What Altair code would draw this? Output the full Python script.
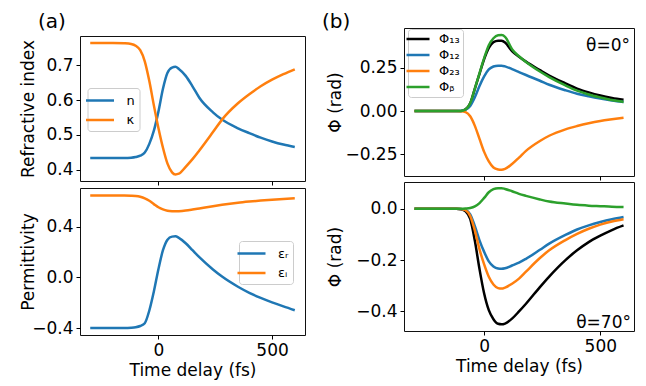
import altair as alt
import pandas as pd

# ---------------- data ----------------
t = [-300, -200, -150, -120, -100, -80, -60, -40, -20, 0, 20, 40, 60, 75, 90,
     120, 150, 180, 240, 280, 350, 400, 450, 500, 550, 600]

n_vals = [0.433, 0.433, 0.433, 0.434, 0.436, 0.440, 0.449, 0.474, 0.512, 0.567,
          0.633, 0.679, 0.694, 0.696, 0.690, 0.670, 0.640, 0.607, 0.565, 0.544,
          0.519, 0.505, 0.492, 0.481, 0.472, 0.465]
kappa_vals = [0.765, 0.765, 0.764, 0.762, 0.757, 0.744, 0.712, 0.655, 0.585, 0.520,
              0.463, 0.417, 0.392, 0.386, 0.388, 0.408, 0.430, 0.455, 0.508, 0.544,
              0.591, 0.617, 0.640, 0.659, 0.675, 0.689]

eps_r = [-0.398, -0.398, -0.398, -0.396, -0.392, -0.382, -0.360, -0.260, -0.110, 0.065,
         0.215, 0.298, 0.322, 0.324, 0.312, 0.270, 0.215, 0.160, 0.063, 0.007,
         -0.073, -0.121, -0.161, -0.196, -0.228, -0.258]
eps_i = [0.645, 0.645, 0.645, 0.644, 0.642, 0.636, 0.624, 0.604, 0.578, 0.553,
         0.536, 0.526, 0.522, 0.521, 0.522, 0.527, 0.535, 0.544, 0.562, 0.573,
         0.589, 0.598, 0.606, 0.613, 0.619, 0.625]

phi13_0 = [0.0, 0.0, 0.0, 0.0, 0.001, 0.010, 0.045, 0.130, 0.215, 0.300,
           0.365, 0.398, 0.406, 0.405, 0.395, 0.345, 0.313, 0.285, 0.236, 0.205,
           0.160, 0.130, 0.108, 0.090, 0.076, 0.065]
phi12_0 = [0.0, 0.0, 0.0, 0.0, 0.001, 0.008, 0.030, 0.080, 0.145, 0.200,
           0.240, 0.257, 0.262, 0.262, 0.258, 0.242, 0.225, 0.208, 0.175, 0.152,
           0.120, 0.100, 0.085, 0.072, 0.061, 0.052]
phi23_0 = [0.0, 0.0, 0.0, 0.0, -0.001, -0.006, -0.030, -0.085, -0.160, -0.235,
           -0.290, -0.325, -0.336, -0.338, -0.333, -0.305, -0.268, -0.229, -0.172, -0.142,
           -0.105, -0.086, -0.070, -0.057, -0.047, -0.038]
phib_0 = [0.0, 0.0, 0.0, 0.0, 0.001, 0.010, 0.045, 0.130, 0.218, 0.305,
          0.380, 0.420, 0.437, 0.438, 0.428, 0.357, 0.316, 0.283, 0.228, 0.196,
          0.148, 0.118, 0.096, 0.079, 0.064, 0.053]

phi13_70 = [0.0, 0.0, 0.0, 0.0, -0.002, -0.010, -0.040, -0.125, -0.235, -0.330,
            -0.395, -0.430, -0.448, -0.450, -0.447, -0.428, -0.400, -0.370, -0.305, -0.264,
            -0.200, -0.162, -0.130, -0.105, -0.083, -0.065]
phi12_70 = [0.0, 0.0, 0.0, 0.0, -0.001, -0.005, -0.022, -0.068, -0.123, -0.168,
            -0.205, -0.225, -0.233, -0.234, -0.232, -0.221, -0.210, -0.195, -0.160, -0.136,
            -0.102, -0.081, -0.065, -0.052, -0.041, -0.032]
phi23_70 = [0.0, 0.0, 0.0, 0.0, -0.001, -0.006, -0.028, -0.085, -0.158, -0.217,
            -0.265, -0.295, -0.309, -0.311, -0.307, -0.292, -0.272, -0.245, -0.192, -0.162,
            -0.122, -0.098, -0.078, -0.062, -0.050, -0.041]
phib_70 = [0.0, 0.0, 0.0, 0.0, 0.0, 0.001, 0.003, 0.009, 0.022, 0.042,
           0.064, 0.076, 0.080, 0.080, 0.077, 0.068, 0.058, 0.050, 0.036, 0.028,
           0.020, 0.015, 0.012, 0.010, 0.008, 0.007]

nk_names = ["n", "κ"]
eps_names = ["εᵣ", "εᵢ"]
phi_names = ["Φ₁₃", "Φ₁₂", "Φ₂₃", "Φᵦ"]
panel_labels = ["(a)", "(b)"]
angle_labels = ["θ=0°", "θ=70°"]
x_ticks = [0, 500]

# ---------------- styling ----------------
FONT = "DejaVu Sans"
BLUE, ORANGE, GREEN, BLACK = "#1f77b4", "#ff7f0e", "#2ca02c", "#000000"
X_DOMAIN = [-345, 645]
WL, HLT, HLB = 225, 145, 147
WR, HRT, HRB = 230, 148, 149
LINE_SYMBOL = "M-2,0H2"


def long_df(names, series, field):
    rows = []
    for name, vals in zip(names, series):
        for tt, v in zip(t, vals):
            rows.append({"t": tt, "v": v, field: name})
    return pd.DataFrame(rows)


def x_enc(show):
    if show:
        ax = alt.Axis(values=x_ticks, format="d", title="Time delay (fs)")
    else:
        ax = alt.Axis(values=x_ticks, labels=False, title=None)
    return alt.X("t:Q", scale=alt.Scale(domain=X_DOMAIN, nice=False, zero=False), axis=ax)


def legend(x, y, half_len, row_pad, pad, lab_off):
    return alt.Legend(orient="none", legendX=x, legendY=y, title=None,
                      symbolType=LINE_SYMBOL, symbolStrokeWidth=2.5,
                      symbolSize=half_len * half_len, labelFont=FONT, labelFontSize=13,
                      labelColor="black", labelOffset=lab_off, rowPadding=row_pad,
                      padding=pad, strokeColor="#cccccc", fillColor="rgba(255,255,255,0.8)",
                      cornerRadius=3)


def line_chart(df, field, names, colors, y_axis, y_dom, leg, show_x, w, h):
    scale = alt.Scale(domain=names, range=colors)
    if leg is None:
        color = alt.Color(f"{field}:N", scale=scale, legend=None)
    else:
        color = alt.Color(f"{field}:N", scale=scale, legend=leg)
    return alt.Chart(df).mark_line(strokeWidth=2.5, interpolate="monotone").encode(
        x=x_enc(show_x),
        y=alt.Y("v:Q", scale=alt.Scale(domain=y_dom, nice=False, zero=False), axis=y_axis),
        color=color,
        detail=f"{field}:N",
    ).properties(width=w, height=h)


def y_axis(vals, fmt, title, tx, h):
    return alt.Axis(values=vals, format=fmt, title=title, titleX=tx, titleY=h / 2,
                    titleAngle=270, titleBaseline="alphabetic", titleAlign="center")


def text_layer(label, x, y, align, size):
    return alt.Chart(pd.DataFrame({"lab": [label]})).mark_text(
        align=align, baseline="alphabetic", font=FONT, fontSize=size, color="black"
    ).encode(text="lab:N", x=alt.value(x), y=alt.value(y))


# (a) label row (small spacer above the left column)
a_label = text_layer(panel_labels[0], -42, -0.2, "left", 20).properties(
    width=WL, height=5, view=alt.ViewBackground(stroke="transparent"))

# (a) top: refractive index
df_nk = long_df(nk_names, [n_vals, kappa_vals], "snk")
a_top = line_chart(
    df_nk, "snk", nk_names, [BLUE, ORANGE],
    y_axis([0.4, 0.5, 0.6, 0.7], ".1f", "Refractive index", -47, HLT),
    [0.367, 0.785], legend(7.5, 52, 14, 3.5, 4, 18), False, WL, HLT,
)

# (a) bottom: permittivity
df_eps = long_df(eps_names, [eps_r, eps_i], "seps")
a_bot = line_chart(
    df_eps, "seps", eps_names, [BLUE, ORANGE],
    y_axis([-0.4, 0.0, 0.4], ".1f", "Permittivity", -47, HLB),
    [-0.453, 0.705], legend(159, 53, 14, 3.5, 4, 18), True, WL, HLB,
)

# (b) top: theta = 0
df_p0 = long_df(phi_names, [phi13_0, phi12_0, phi23_0, phib_0], "sphi")
b_top_lines = line_chart(
    df_p0, "sphi", phi_names, [BLACK, BLUE, ORANGE, GREEN],
    y_axis([-0.25, 0.0, 0.25], ".2f", "Φ (rad)", -64, HRT),
    [-0.374, 0.479], legend(4, 1, 11.5, 2, 3, 14), False, WR, HRT,
)
b_top = alt.layer(
    b_top_lines,
    text_layer(angle_labels[0], WR - 4, 23, "right", 17),
    text_layer(panel_labels[1], -82, -0.2, "left", 20),
)

# (b) bottom: theta = 70
df_p70 = long_df(phi_names, [phi13_70, phi12_70, phi23_70, phib_70], "sphi2")
b_bot_lines = line_chart(
    df_p70, "sphi2", phi_names, [BLACK, BLUE, ORANGE, GREEN],
    y_axis([-0.4, -0.2, 0.0], ".1f", "Φ (rad)", -64, HRB),
    [-0.476, 0.104], None, True, WR, HRB,
)
b_bot = alt.layer(b_bot_lines, text_layer(angle_labels[1], WR - 3, HRB - 3, "right", 17))

left = alt.vconcat(a_label, a_top, a_bot, spacing=1).resolve_scale(color="independent")
right = alt.vconcat(b_top, b_bot, spacing=0).resolve_scale(color="independent")

chart = alt.hconcat(left, right, spacing=15).resolve_scale(color="independent").properties(
    padding={"left": 10, "top": 3, "right": 2, "bottom": 2}
).configure_axis(
    labelFont=FONT, titleFont=FONT, labelFontSize=17, titleFontSize=17,
    titleFontWeight="normal", labelColor="black", titleColor="black",
    tickColor="black", tickSize=4, tickWidth=1, labelPadding=3,
    domain=False, grid=False,
).configure_view(stroke="#111111", strokeWidth=1)

chart.save("out.html", embed_options={"renderer": "svg", "actions": False})
